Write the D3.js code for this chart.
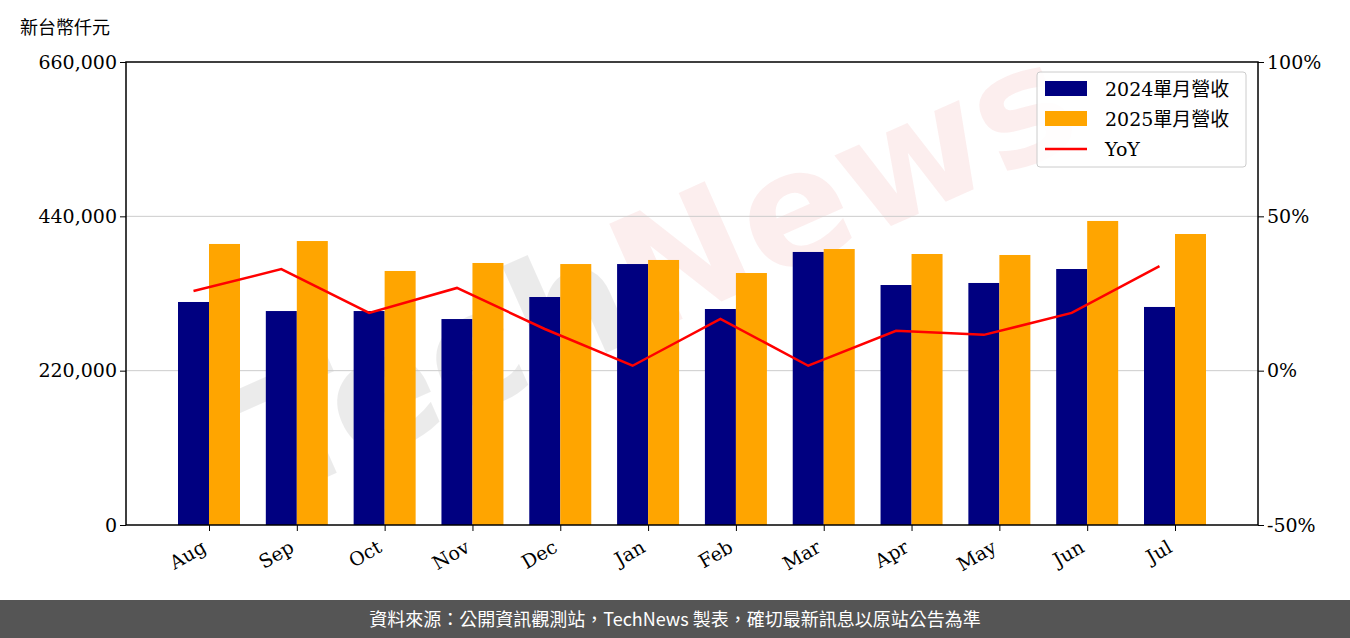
<!DOCTYPE html><html><head><meta charset="utf-8"><script src="https://cdn.jsdelivr.net/npm/d3@7"></script>
<style>body{margin:0;background:#fff}</style></head><body><svg id="c" width="1350" height="638"></svg>
<script>
const months=["Aug","Sep","Oct","Nov","Dec","Jan","Feb","Mar","Apr","May","Jun","Jul"];
const rev2024=[317900,305000,305000,293600,325000,372000,307900,389200,342100,345000,364900,310800];
const rev2025=[400600,404800,362100,373500,372000,377800,359200,393400,386300,384900,433400,414800];
const yoy=[25.8,32.9,18.7,26.8,13.5,1.6,16.8,1.6,12.9,11.6,18.7,33.9];
const leftTicks=[0,220000,440000,660000];
const rightTicks=[-50,0,50,100];
const svg=d3.select("#c");
const L=126,R=1258,T=62,B=525;
const font="DejaVu Serif";
const x=d3.scalePoint().domain(months).range([209,1175]);
const bw=31;
const y=d3.scaleLinear().domain([0,660000]).range([B,T]);
const y2=d3.scaleLinear().domain([-50,100]).range([B,T]);
const wm=svg.append("text").attr("x",680).attr("y",320).attr("text-anchor","middle").attr("transform","rotate(-24,680,320)")
 .attr("font-family","DejaVu Sans").attr("font-weight","bold").attr("font-size",160);
wm.append("tspan").attr("fill","#000").attr("fill-opacity",0.08).text("Tech");
wm.append("tspan").attr("fill","#d42020").attr("fill-opacity",0.08).text("News");
svg.append("g").selectAll("line").data(leftTicks.slice(1,3)).join("line").attr("x1",L).attr("x2",R).attr("y1",d=>y(d)).attr("y2",d=>y(d)).attr("stroke","#ccc");
svg.append("g").selectAll("rect").data(rev2024).join("rect").attr("x",(d,i)=>x(months[i])-bw).attr("width",bw).attr("y",d=>y(d)).attr("height",d=>B-y(d)).attr("fill","#000080");
svg.append("g").selectAll("rect").data(rev2025).join("rect").attr("x",(d,i)=>x(months[i])).attr("width",bw).attr("y",d=>y(d)).attr("height",d=>B-y(d)).attr("fill","#FFA500");
svg.append("path").datum(yoy).attr("fill","none").attr("stroke","red").attr("stroke-width",2.5)
 .attr("d",d3.line().x((d,i)=>x(months[i])-bw/2).y(d=>y2(d)));
const ax=svg.append("g").attr("transform",`translate(0,${B})`).call(d3.axisBottom(x).tickSize(6));
const ay=svg.append("g").attr("transform",`translate(${L},0)`).call(d3.axisLeft(y).tickValues(leftTicks).tickFormat(d3.format(",")).tickSize(6));
const ay2=svg.append("g").attr("transform",`translate(${R},0)`).call(d3.axisRight(y2).tickValues(rightTicks).tickFormat(d=>d+"%").tickSize(6));
[ax,ay,ay2].forEach(g=>{g.selectAll("text").attr("font-family",font).attr("font-size",19).attr("fill","#000");g.select(".domain").remove();g.selectAll("line").attr("stroke","#000")});
ax.selectAll("text").attr("x",0).attr("y",0).attr("dy",0).attr("dx",0).attr("text-anchor","end").attr("transform","translate(-2,26) rotate(-30)");
svg.append("rect").attr("x",L).attr("y",T).attr("width",R-L).attr("height",B-T).attr("fill","none").attr("stroke","#000").attr("stroke-width",1.5);
svg.append("text").attr("x",20).attr("y",34).attr("font-family","Noto Sans CJK TC").attr("font-size",18).text("新台幣仟元");
const lg=svg.append("g").attr("transform","translate(1037,72)");
lg.append("rect").attr("width",209).attr("height",95).attr("rx",3).attr("fill","#fff").attr("fill-opacity",0.85).attr("stroke","#ccc");
const items=[["2024單月營收","#000080","r"],["2025單月營收","#FFA500","r"],["YoY","red","l"]];
items.forEach((it,i)=>{const yy=17+i*30;
 if(it[2]=="r")lg.append("rect").attr("x",8).attr("y",yy-8).attr("width",42).attr("height",15).attr("fill",it[1]);
 else lg.append("line").attr("x1",8).attr("x2",50).attr("y1",yy).attr("y2",yy).attr("stroke",it[1]).attr("stroke-width",2.5);
 lg.append("text").attr("x",68).attr("y",yy+7).attr("font-family",font+",Noto Sans CJK TC").attr("font-size",19).text(it[0]);});
svg.append("rect").attr("x",0).attr("y",600).attr("width",1350).attr("height",38).attr("fill","#555");
svg.append("text").attr("x",675).attr("y",626).attr("text-anchor","middle").attr("fill","#fff").attr("font-family","Noto Sans CJK TC").attr("font-size",18).text("資料來源：公開資訊觀測站，TechNews 製表，確切最新訊息以原站公告為準");
</script></body></html>
